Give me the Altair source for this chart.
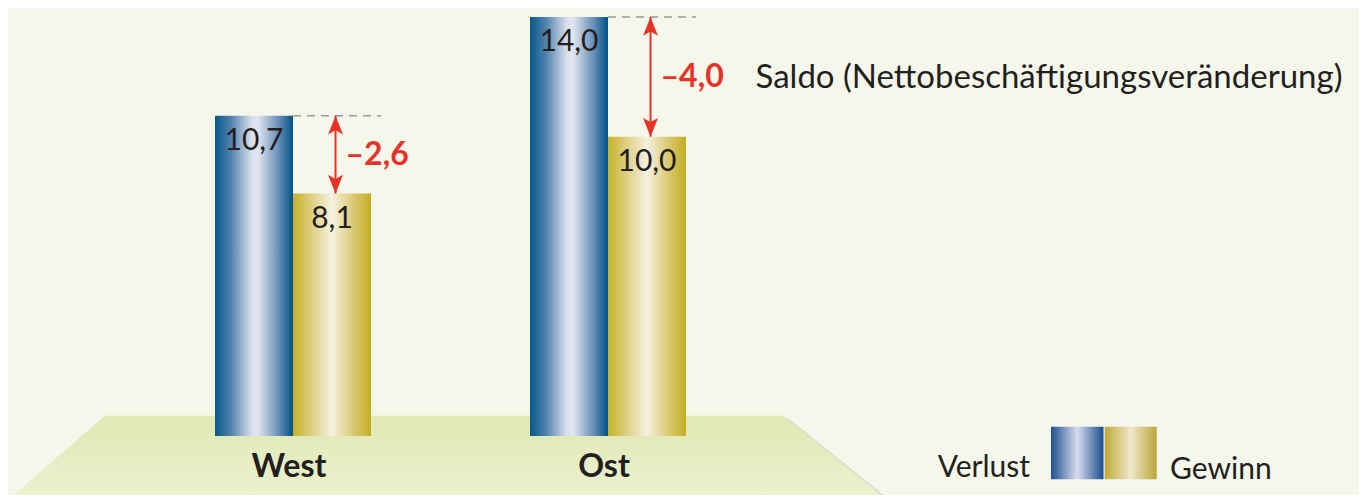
import altair as alt
import pandas as pd

# ---------------- data ----------------
regions = ["West", "Ost"]
verlust = [10.7, 14.0]
gewinn = [8.1, 10.0]
verlust_labels = ["10,7", "14,0"]
gewinn_labels = ["8,1", "10,0"]
saldo_labels = ["–2,6", "–4,0"]
legend_labels = ["Verlust", "Gewinn"]
saldo_title = "Saldo (Nettobeschäftigungsveränderung)"

# ---------------- layout / style ----------------
W, H = 1351, 487
X_DOMAIN = [-0.90476, 3.38413]
Y_DOMAIN = [-1.9713, 14.3000]
BW = 0.2476
ARROW_DX = 0.135
DASH_END = 0.28

FONT = "Lato"
BG = "#f5f7ea"
TXT = "#231f20"
RED = "#e63329"

def grad(stops, vertical=False):
    return alt.LinearGradient(
        gradient="linear",
        stops=[alt.GradientStop(color=c, offset=o) for o, c in stops],
        x1=0, x2=0 if vertical else 1, y1=0, y2=1 if vertical else 0,
    )

BLUE = grad([(0, "#07598b"), (0.2, "#4f81ab"), (0.47, "#d9dfec"), (0.55, "#e2e5f0"),
             (0.8, "#6f94bb"), (1, "#005284")])
GOLD = grad([(0, "#c6b22a"), (0.22, "#dccd7c"), (0.5, "#f6f1e2"), (0.78, "#dac86e"),
             (1, "#c4ad22")])
LBLUE = grad([(0, "#1c4f8f"), (0.5, "#d9dcef"), (1, "#1a4d8e")])
LGOLD = grad([(0, "#bfa936"), (0.5, "#f0e7cd"), (1, "#bba635")])
FLOOR = grad([(0, "#e0e8b3"), (1, "#ecf1cf")], vertical=True)

rows = []
for i, r in enumerate(regions):
    rows.append(dict(region=r, g=i, verlust=verlust[i], gewinn=gewinn[i],
                     vl=verlust_labels[i], gl=gewinn_labels[i], sl=saldo_labels[i],
                     mid=(verlust[i] + gewinn[i]) / 2))
df = pd.DataFrame(rows)
df["v_x"] = df.g - BW
df["v_x2"] = df.g
df["v_c"] = df.g - BW / 2
df["g_x2"] = df.g + BW
df["g_c"] = df.g + BW / 2
df["a_x"] = df.g + ARROW_DX
df["d_x2"] = df.g + DASH_END
df["zero"] = 0.0

xs = alt.Scale(domain=X_DOMAIN, nice=False, zero=False)
ys = alt.Scale(domain=Y_DOMAIN, nice=False, zero=False)

def X(f):
    return alt.X(f, type="quantitative", scale=xs, axis=None)

def Y(f):
    return alt.Y(f, type="quantitative", scale=ys, axis=None)

# floor (decoration)
floor_df = pd.DataFrame({"y": [0.678, -2.071], "x": [-0.5968, -0.8984], "x2": [1.5556, 1.8794]})
shadow_df = floor_df.copy()
shadow_df["x"] = shadow_df["x"] + 2 / 315
shadow_df["x2"] = shadow_df["x2"] + 6 / 315
shadow_df["y"] = shadow_df["y"] - 3 / 29.93

shadow = alt.Chart(shadow_df).mark_area(orient="horizontal", color="#cfd1bf", opacity=0.7).encode(
    y=Y("y"), x=X("x"), x2="x2")
floor = alt.Chart(floor_df).mark_area(orient="horizontal", fill=FLOOR).encode(
    y=Y("y"), x=X("x"), x2="x2")

base = alt.Chart(df)
bars_v = base.mark_rect(fill=BLUE).encode(x=X("v_x"), x2="v_x2", y=Y("verlust"), y2="zero")
bars_g = base.mark_rect(fill=GOLD).encode(x=X("v_x2"), x2="g_x2", y=Y("gewinn"), y2="zero")

dashes = base.mark_rule(stroke="#999999", strokeDash=[8, 6], strokeWidth=1.6).encode(
    x=X("v_x2"), x2="d_x2", y=Y("verlust"))
arrow_line = base.mark_rule(color=RED, strokeWidth=2).encode(
    x=X("a_x"), y=Y("gewinn"), y2="verlust")
head_up = base.mark_point(shape="M0,0L0.4,1L0,0.78L-0.4,1Z", size=1400, filled=True,
                          fill=RED, opacity=1, strokeWidth=0).encode(x=X("a_x"), y=Y("verlust"))
head_dn = base.mark_point(shape="M0,0L0.4,-1L0,-0.78L-0.4,-1Z", size=1400, filled=True,
                          fill=RED, opacity=1, strokeWidth=0).encode(x=X("a_x"), y=Y("gewinn"))

val_v = base.mark_text(font=FONT, fontSize=30, color=TXT, baseline="middle", dy=25).encode(
    x=X("v_c"), y=Y("verlust"), text="vl")
val_g = base.mark_text(font=FONT, fontSize=30, color=TXT, baseline="middle", dy=25).encode(
    x=X("g_c"), y=Y("gewinn"), text="gl")
cat = base.mark_text(font=FONT, fontSize=32, fontWeight="bold", color=TXT, baseline="middle",
                     dy=31, dx=-4).encode(x=X("g"), y=Y("zero"), text="region")
net = base.mark_text(font=FONT, fontSize=32, fontWeight="bold", color=RED, align="left",
                     baseline="middle", dx=10).encode(x=X("a_x"), y=Y("mid"), text="sl")
saldo = alt.Chart(df[df.region == "Ost"]).mark_text(
    font=FONT, fontSize=33, color=TXT, align="left", baseline="middle", dx=105, dy=1,
    text=saldo_title).encode(x=X("a_x"), y=Y("mid"))

one = pd.DataFrame({"k": [0]})
leg_b = alt.Chart(one).mark_rect(fill=LBLUE).encode(
    x=alt.value(1043), x2=alt.value(1095.5), y=alt.value(418.7), y2=alt.value(471.3))
leg_g = alt.Chart(one).mark_rect(fill=LGOLD).encode(
    x=alt.value(1096.7), x2=alt.value(1148.7), y=alt.value(418.7), y2=alt.value(471.3))
leg_t1 = alt.Chart(one).mark_text(font=FONT, fontSize=30, color=TXT, align="right",
                                  baseline="alphabetic", text=legend_labels[0]).encode(
    x=alt.value(1022), y=alt.value(469))
leg_t2 = alt.Chart(one).mark_text(font=FONT, fontSize=30, color=TXT, align="left",
                                  baseline="alphabetic", text=legend_labels[1]).encode(
    x=alt.value(1162), y=alt.value(471))

chart = alt.layer(
    shadow, floor, bars_v, bars_g, dashes, arrow_line, head_up, head_dn,
    val_v, val_g, cat, net, saldo, leg_b, leg_g, leg_t1, leg_t2
).properties(
    width=W, height=H, background=BG, padding=0, autosize="none"
).configure_view(stroke=None)

chart.save("out.html", embed_options={"renderer": "svg", "actions": False})
